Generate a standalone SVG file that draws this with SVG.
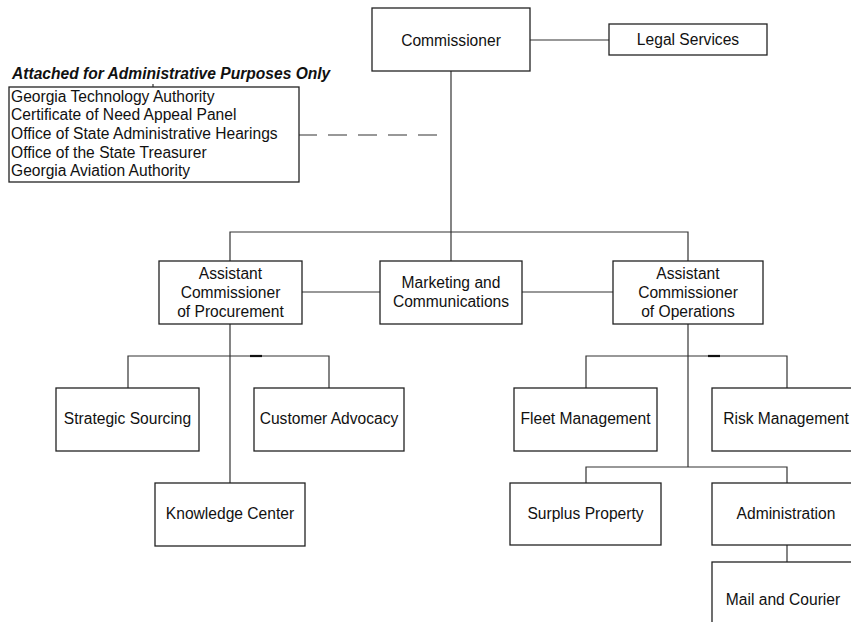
<svg xmlns="http://www.w3.org/2000/svg" width="851" height="622" viewBox="0 0 851 622">
<style>
.box{fill:#fff;stroke:#222;stroke-width:1.3}
.ln{fill:none;stroke:#333;stroke-width:1.2}
text{font-family:"Liberation Sans",Arial,sans-serif;font-size:15.6px;fill:#111}
.c{text-anchor:middle}
.t{font-weight:bold;font-style:italic}
</style>
<rect width="851" height="622" fill="#fff"/>
<g id="connectors">
<line class="ln" x1="530" y1="40" x2="609" y2="40"/>
<line class="ln" x1="451" y1="71" x2="451" y2="261"/>
<line class="ln" x1="298" y1="135" x2="438" y2="135" stroke-dasharray="19,11"/>
<line class="ln" x1="153" y1="84" x2="153" y2="87"/>
<polyline class="ln" points="230,261 230,232 688,232 688,261"/>
<line class="ln" x1="302" y1="292" x2="380" y2="292"/>
<line class="ln" x1="522" y1="292" x2="613" y2="292"/>
<line class="ln" x1="230" y1="324" x2="230" y2="483"/>
<polyline class="ln" points="128,388 128,356 329,356 329,388"/>
<line x1="250" y1="356" x2="262" y2="356" stroke="#111" stroke-width="2.2"/>
<line class="ln" x1="688" y1="324" x2="688" y2="467"/>
<polyline class="ln" points="586,388 586,356 787,356 787,388"/>
<line x1="708" y1="356" x2="720" y2="356" stroke="#111" stroke-width="2.2"/>
<polyline class="ln" points="586,483 586,467 787,467 787,483"/>
<line class="ln" x1="787" y1="545" x2="787" y2="562"/>
</g>
<g id="commissioner"><rect class="box" x="372" y="8" width="158" height="63"/><text class="c" x="451" y="45.5">Commissioner</text></g>
<g id="legal"><rect class="box" x="609" y="24" width="158" height="31"/><text class="c" x="688" y="45">Legal Services</text></g>
<g id="attached">
<text class="t" x="12" y="79">Attached for Administrative Purposes Only</text>
<rect class="box" x="9" y="87" width="290" height="95"/>
<text x="11" y="101.7">Georgia Technology Authority</text>
<text x="11" y="120.3">Certificate of Need Appeal Panel</text>
<text x="11" y="138.9">Office of State Administrative Hearings</text>
<text x="11" y="157.5">Office of the State Treasurer</text>
<text x="11" y="176">Georgia Aviation Authority</text>
</g>
<g id="procurement"><rect class="box" x="159" y="261" width="143" height="63"/>
<text class="c" x="230.5" y="279.3">Assistant</text><text class="c" x="230.5" y="298">Commissioner</text><text class="c" x="230.5" y="316.7">of Procurement</text></g>
<g id="marketing"><rect class="box" x="380" y="261" width="142" height="63"/>
<text class="c" x="451" y="288.3">Marketing and</text><text class="c" x="451" y="306.8">Communications</text></g>
<g id="operations"><rect class="box" x="613" y="261" width="150" height="63"/>
<text class="c" x="688" y="279.3">Assistant</text><text class="c" x="688" y="298">Commissioner</text><text class="c" x="688" y="316.7">of Operations</text></g>
<g id="strategic"><rect class="box" x="56" y="388" width="143" height="63"/><text class="c" x="127.5" y="424">Strategic Sourcing</text></g>
<g id="customer"><rect class="box" x="254" y="388" width="150" height="63"/><text class="c" x="329" y="424">Customer Advocacy</text></g>
<g id="knowledge"><rect class="box" x="155" y="483" width="150" height="63"/><text class="c" x="230" y="519">Knowledge Center</text></g>
<g id="fleet"><rect class="box" x="514" y="388" width="143" height="63"/><text class="c" x="585.5" y="424">Fleet Management</text></g>
<g id="risk"><rect class="box" x="712" y="388" width="150" height="63"/><text class="c" x="786" y="424">Risk Management</text></g>
<g id="surplus"><rect class="box" x="510" y="483" width="151" height="62"/><text class="c" x="585.5" y="519">Surplus Property</text></g>
<g id="administration"><rect class="box" x="712" y="483" width="150" height="62"/><text class="c" x="786" y="519">Administration</text></g>
<g id="mail"><rect class="box" x="712" y="562" width="150" height="70"/><text class="c" x="783" y="605">Mail and Courier</text></g>
</svg>
